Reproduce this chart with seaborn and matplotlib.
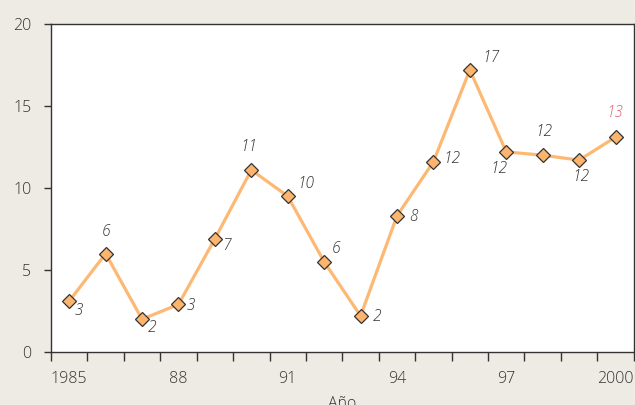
import numpy as np
import pandas as pd
import matplotlib
matplotlib.use("Agg")
import matplotlib.pyplot as plt
import seaborn as sns

# Annual values
years = [1985, 1986, 1987, 1988, 1989, 1990, 1991, 1992,
         1993, 1994, 1995, 1996, 1997, 1998, 1999, 2000]
values = [3.1, 6.0, 2.0, 2.9, 6.9, 11.1, 9.5, 5.5,
          2.2, 8.3, 11.6, 17.2, 12.2, 12.0, 11.7, 13.1]

tick_years = [1985, 1988, 1991, 1994, 1997, 2000]
tick_labels = ["1985", "88", "91", "94", "97", "2000"]
y_ticks = [0, 5, 10, 15, 20]

# Where each value label sits relative to its marker (pixels)
label_offsets = [(10, -10), (0, 22), (10, -9), (12, -2), (12, -7), (-2, 23),
                 (18, 12), (12, 13), (16, -1), (17, -1), (18, 3), (21, 12),
                 (-7, -17), (1, 23), (2, -17), (-1, 24)]

sns.set_theme(style="white")
plt.rcParams["font.family"] = ["Open Sans", "DejaVu Sans"]

bg = "#eeebe4"
line_color = "#fdb973"
ink = "#333333"

fig = plt.figure(figsize=(6.35, 4.05), dpi=100, facecolor=bg)
ax = fig.add_axes([0.0803, 0.1309, 0.9177, 0.8098])
ax.set_facecolor("white")

df = pd.DataFrame({"Año": years, "valor": values})
sns.lineplot(data=df, x="Año", y="valor", ax=ax, color=line_color,
             linewidth=2.3, marker="D", markersize=7.5,
             markerfacecolor="#fdb46c", markeredgecolor=ink,
             markeredgewidth=0.9)

for i, (yr, v, off) in enumerate(zip(years, values, label_offsets)):
    color = "#e8636b" if i == len(years) - 1 else ink
    ax.annotate(f"{int(v + 0.5)}", (yr, v), xytext=off,
                textcoords="offset pixels", ha="center", va="center",
                fontsize=11.2, fontstyle="italic", fontweight="light",
                color=color)

ax.set_xlim(years[0] - 0.5, years[-1] + 0.5)
ax.set_ylim(0, 20)
ax.set_yticks(y_ticks)
ax.set_xticks(tick_years)
ax.set_xticklabels(tick_labels)
ax.set_xticks(np.arange(years[0] - 0.5, years[-1] + 0.6, 1.0), minor=True)

ax.tick_params(axis="x", which="major", length=0, pad=14,
               labelsize=11.5, labelcolor=ink)
ax.tick_params(axis="x", which="minor", length=6.5, width=1.0,
               color=ink, direction="out", bottom=True)
ax.tick_params(axis="y", which="major", length=5, width=1.0, color=ink,
               direction="out", left=True, pad=9, labelsize=11.5,
               labelcolor=ink)
for lbl in ax.get_xticklabels() + ax.get_yticklabels():
    lbl.set_fontweight("light")

for side in ["left", "bottom", "top", "right"]:
    ax.spines[side].set_visible(True)
    ax.spines[side].set_color(ink)
    ax.spines[side].set_linewidth(1.0)

ax.set_ylabel("")
ax.set_xlabel("Año", fontsize=11.5, color=ink, labelpad=6,
              fontweight="light")

fig.savefig("out.png", dpi=100, facecolor=bg)
